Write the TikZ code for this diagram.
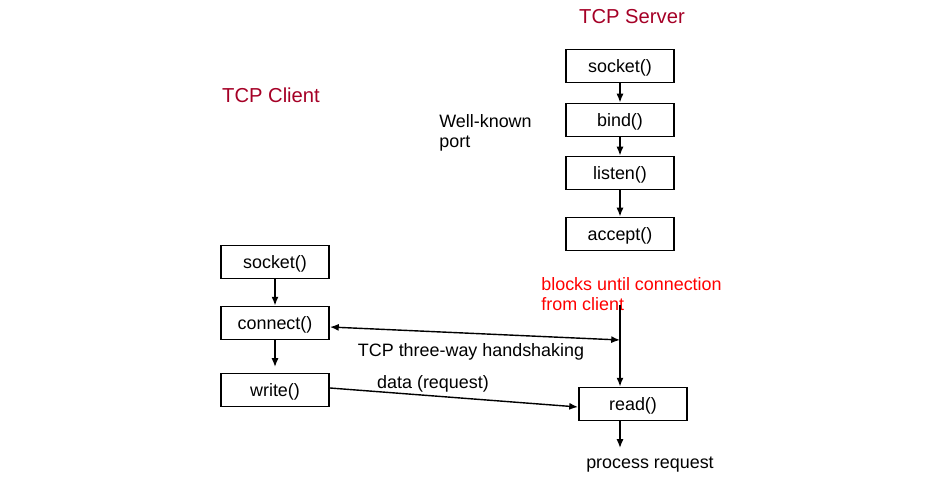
\documentclass[tikz,border=0pt]{standalone}
\usepackage{fontspec}
\setmainfont{Liberation Sans}
\usetikzlibrary{arrows.meta}
\definecolor{titlered}{RGB}{165,0,38}

\begin{document}
\begin{tikzpicture}[x=0.02cm,y=-0.02cm]
  \useasboundingbox (0,0) rectangle (936,479);
  \tikzstyle{CallStyle}=[draw,line width=1.1pt,minimum width=2.16cm,minimum height=0.66cm,inner sep=0pt,text depth=0.5pt,font=\fontsize{10.2}{12}\selectfont]
  \tikzstyle{TitleStyle}=[text=titlered,font=\fontsize{11.5}{13}\selectfont]
  \tikzstyle{NoteStyle}=[align=left,anchor=west,inner sep=0pt,font=\fontsize{10.2}{11.4}\selectfont]
  \tikzstyle{LabelStyle}=[font=\fontsize{10.2}{12}\selectfont]
  \tikzstyle{EdgeStyle}=[line width=0.8pt,-{Latex[length=5pt,width=4pt]}]
  % titles
  \node[TitleStyle] (server) at (632,17) {TCP Server};
  \node[TitleStyle] (client) at (271,95) {TCP Client};
  % server side
  \node[CallStyle] (ssocket) at (620,66) {socket()};
  \node[CallStyle] (bind) at (620,120) {bind()};
  \node[CallStyle] (listen) at (620,173) {listen()};
  \node[CallStyle] (accept) at (620,234) {accept()};
  \node[CallStyle] (read) at (633,404) {read()};
  % client side
  \node[CallStyle] (csocket) at (275,262) {socket()};
  \node[CallStyle] (connect) at (275,323) {connect()};
  \node[CallStyle] (write) at (275,390) {write()};
  % notes
  \node[NoteStyle] (port) at (439,133) {Well-known\\port};
  \node[NoteStyle,text=red] (blocks) at (541,294) {blocks until connection\\from client};
  \node[LabelStyle] (hslabel) at (471,352) {TCP three-way handshaking};
  \node[LabelStyle] (datalabel) at (433,384) {data (request)};
  \node[LabelStyle] (process) at (650,465) {process request};
  \coordinate (blk) at (620,305);
  \coordinate (hs) at (620,340);
  \coordinate (proc) at (620,448);
  \coordinate (cw) at (275,367);
  % edges
  \draw[EdgeStyle] (ssocket) -- (bind);
  \draw[EdgeStyle] (bind) -- (listen);
  \draw[EdgeStyle] (listen) -- (accept);
  \draw[EdgeStyle] (csocket) -- (connect);
  \draw[EdgeStyle] (connect) -- (cw);
  \draw[EdgeStyle] (blk) -- (blk |- read.north);
  \draw[line width=0.8pt,{Latex[length=5pt,width=4pt]}-{Latex[length=5pt,width=4pt]}] ([yshift=-0.08cm]connect.east) -- (hs);
  \draw[EdgeStyle] ([yshift=0.04cm]write.east) -- ([yshift=-0.06cm]read.west);
  \draw[EdgeStyle] (read.south -| proc) -- (proc);
\end{tikzpicture}
\end{document}
